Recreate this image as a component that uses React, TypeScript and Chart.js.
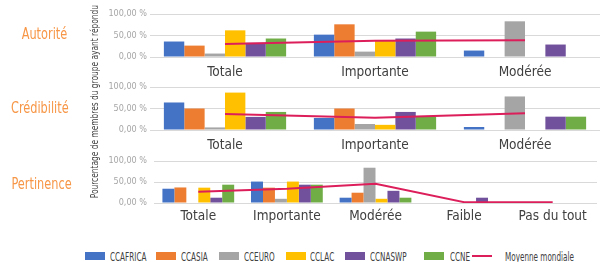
import React, { useEffect, useRef } from "react";
import { Chart, registerables } from "chart.js";

Chart.register(...registerables);

// ---------- data ----------
const seriesNames = ["CCAFRICA", "CCASIA", "CCEURO", "CCLAC", "CCNASWP", "CCNE"];
const lineName = "Moyenne mondiale";
const yTickValues = [0, 50, 100];
const yAxisTitle = "Pourcentage de membres du groupe ayant répondu";

const autoriteTitle = "Autorité";
const autoriteCategories = ["Totale", "Importante", "Modérée"];
const autoriteCCAFRICA = [36, 52, 15];
const autoriteCCASIA = [26.5, 76, 0];
const autoriteCCEURO = [8, 12.5, 83];
const autoriteCCLAC = [62, 39, 0];
const autoriteCCNASWP = [33, 43, 29];
const autoriteCCNE = [43, 59, 0];
const autoriteMoyenne = [30.5, 38, 39];

const credibiliteTitle = "Crédibilité";
const credibiliteCategories = ["Totale", "Importante", "Modérée"];
const credibiliteCCAFRICA = [64, 28, 7];
const credibiliteCCASIA = [50, 50, 0];
const credibiliteCCEURO = [6, 14, 78];
const credibiliteCCLAC = [87, 12, 0];
const credibiliteCCNASWP = [30.5, 42, 31];
const credibiliteCCNE = [42, 31, 31];
const credibiliteMoyenne = [37, 28.5, 39];

const pertinenceTitle = "Pertinence";
const pertinenceCategories = ["Totale", "Importante", "Modérée", "Faible", "Pas du tout"];
const pertinenceCCAFRICA = [34, 51, 12.6, 0, 0];
const pertinenceCCASIA = [37, 36.5, 24.5, 0, 0];
const pertinenceCCEURO = [0, 10, 84, 0, 0];
const pertinenceCCLAC = [36.5, 51, 10, 0, 0];
const pertinenceCCNASWP = [12.6, 43.6, 29, 12.6, 0];
const pertinenceCCNE = [43.6, 43.6, 12.6, 0, 0];
const pertinenceMoyenne = [27, 34, 46, 2, 1.5];

// ---------- styles ----------
const seriesColors = ["#4472C4", "#ED7D31", "#A5A5A5", "#FFC000", "#71519C", "#70AD47"];
const lineColor = "#DC1E5B";
const titleColor = "#F79646";
const FONT = "'DejaVu Sans Condensed', 'Liberation Sans Narrow', sans-serif";

type PanelProps = {
  categories: string[];
  series: number[][];
  mean: number[];
  top: number;
  height: number;
  padTop: number;
  xAxisHeight: number;
  areaLeft: number;
  areaRight: number;
  catPct: number;
  tickPad: number;
  labelPad: number;
};

function fmtTick(v: number) {
  return v.toFixed(2).replace(".", ",") + " %";
}

function Panel(p: PanelProps) {
  const ref = useRef<HTMLCanvasElement | null>(null);
  useEffect(() => {
    if (!ref.current) return;
    const datasets: any[] = [
      {
        type: "line",
        label: lineName,
        data: p.mean,
        borderColor: lineColor,
        backgroundColor: lineColor,
        borderWidth: 2,
        pointRadius: 0,
        tension: 0,
        order: 0,
      },
      ...seriesNames.map((name, i) => ({
        type: "bar",
        label: name,
        data: p.series[i],
        backgroundColor: seriesColors[i],
        borderWidth: 0,
        categoryPercentage: p.catPct,
        barPercentage: 1,
        order: 1,
      })),
    ];
    const chart = new Chart(ref.current, {
      type: "bar",
      data: { labels: p.categories, datasets },
      options: {
        responsive: false,
        animation: false,
        layout: { padding: { left: 0, right: 605 - p.areaRight, top: p.padTop, bottom: 0 } },
        plugins: { legend: { display: false }, tooltip: { enabled: false } },
        scales: {
          x: {
            grid: { display: false },
            border: { display: false },
            ticks: {
              color: "#404040",
              font: { family: FONT, size: 13.5 },
              padding: p.labelPad,
              maxRotation: 0,
              autoSkip: false,
            },
            afterFit: (s: any) => {
              s.height = p.xAxisHeight;
            },
          },
          y: {
            min: 0,
            max: 100,
            afterBuildTicks: (s: any) => {
              s.ticks = yTickValues.map((v) => ({ value: v }));
            },
            ticks: {
              color: "#A6A6A6",
              font: { family: FONT, size: 9 },
              padding: p.tickPad,
              callback: (v: any) => fmtTick(Number(v)),
            },
            grid: { color: "#D9D9D9", drawTicks: false, lineWidth: 1 },
            border: { display: false },
            afterFit: (s: any) => {
              s.width = p.areaLeft;
            },
          },
        },
      } as any,
    });
    return () => chart.destroy();
  }, []);
  return (
    <canvas
      ref={ref}
      width={605}
      height={p.height}
      style={{ position: "absolute", left: 0, top: p.top, width: 605, height: p.height, display: "block" }}
    />
  );
}

const legendItems = [
  { label: seriesNames[0], color: seriesColors[0], x: 85, tx: 110, line: false },
  { label: seriesNames[1], color: seriesColors[1], x: 156, tx: 181, line: false },
  { label: seriesNames[2], color: seriesColors[2], x: 219, tx: 244, line: false },
  { label: seriesNames[3], color: seriesColors[3], x: 286, tx: 310, line: false },
  { label: seriesNames[4], color: seriesColors[4], x: 345, tx: 370, line: false },
  { label: seriesNames[5], color: seriesColors[5], x: 424, tx: 450, line: false },
  { label: lineName, color: lineColor, x: 472, tx: 505, line: true },
];

function Title({ text, cy }: { text: string; cy: number }) {
  return (
    <div
      style={{
        position: "absolute",
        left: 0,
        width: 67,
        top: cy - 10,
        height: 20,
        lineHeight: "20px",
        textAlign: "right",
        whiteSpace: "nowrap",
      }}
    >
      <span
        style={{
          display: "inline-block",
          fontSize: 15,
          color: titleColor,
          fontFamily: FONT,
          transform: "scaleX(0.84)",
          transformOrigin: "100% 50%",
        }}
      >
        {text}
      </span>
    </div>
  );
}

export default function App() {
  useEffect(() => {
    document.body.style.margin = "0";
  }, []);
  return (
    <div
      style={{
        position: "fixed",
        left: 0,
        top: 0,
        width: 605,
        height: 262,
        background: "#ffffff",
        overflow: "hidden",
        fontFamily: FONT,
      }}
    >
      <Panel
        categories={autoriteCategories}
        series={[autoriteCCAFRICA, autoriteCCASIA, autoriteCCEURO, autoriteCCLAC, autoriteCCNASWP, autoriteCCNE]}
        mean={autoriteMoyenne}
        top={0}
        height={88}
        padTop={14}
        xAxisHeight={31}
        areaLeft={150}
        areaRight={600}
        catPct={0.815}
        tickPad={3}
        labelPad={-1}
      />
      <Panel
        categories={credibiliteCategories}
        series={[
          credibiliteCCAFRICA,
          credibiliteCCASIA,
          credibiliteCCEURO,
          credibiliteCCLAC,
          credibiliteCCNASWP,
          credibiliteCCNE,
        ]}
        mean={credibiliteMoyenne}
        top={74}
        height={87}
        padTop={13}
        xAxisHeight={31}
        areaLeft={150}
        areaRight={600}
        catPct={0.815}
        tickPad={3}
        labelPad={-1}
      />
      <Panel
        categories={pertinenceCategories}
        series={[
          pertinenceCCAFRICA,
          pertinenceCCASIA,
          pertinenceCCEURO,
          pertinenceCCLAC,
          pertinenceCCNASWP,
          pertinenceCCNE,
        ]}
        mean={pertinenceMoyenne}
        top={147}
        height={78}
        padTop={14}
        xAxisHeight={22}
        areaLeft={154}
        areaRight={597}
        catPct={0.81}
        tickPad={7}
        labelPad={-3}
      />
      <Title text={autoriteTitle} cy={33.5} />
      <Title text={credibiliteTitle} cy={108} />
      <Title text={pertinenceTitle} cy={183.5} />
      <div
        style={{
          position: "absolute",
          left: 93 - 120,
          top: 104 - 7,
          width: 240,
          height: 14,
          lineHeight: "14px",
          textAlign: "center",
          whiteSpace: "nowrap",
          transform: "rotate(-90deg)",
          transformOrigin: "50% 50%",
        }}
      >
        <span
          style={{
            display: "inline-block",
            fontSize: 10.5,
            color: "#404040",
            transform: "scaleX(0.79)",
            transformOrigin: "50% 50%",
          }}
        >
          {yAxisTitle}
        </span>
      </div>
      {legendItems.map((it) => (
        <React.Fragment key={it.label}>
          <div
            style={{
              position: "absolute",
              left: it.x,
              top: it.line ? 255 : 252,
              width: 20,
              height: it.line ? 2 : 8,
              background: it.color,
            }}
          />
          <div
            style={{
              position: "absolute",
              left: it.tx,
              top: 249,
              height: 14,
              lineHeight: "14px",
              whiteSpace: "nowrap",
            }}
          >
            <span
              style={{
                display: "inline-block",
                fontSize: 11.5,
                color: "#404040",
                transform: "scaleX(0.7)",
                transformOrigin: "0% 50%",
              }}
            >
              {it.label}
            </span>
          </div>
        </React.Fragment>
      ))}
    </div>
  );
}
